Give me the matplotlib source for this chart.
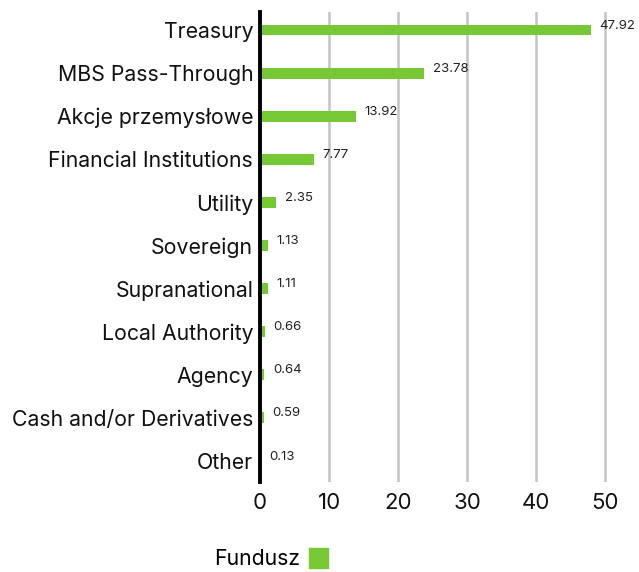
import matplotlib.pyplot as plt
from matplotlib.patches import Patch

categories = ['Treasury', 'MBS Pass-Through', 'Akcje przemysłowe', 'Financial Institutions',
              'Utility', 'Sovereign', 'Supranational', 'Local Authority', 'Agency',
              'Cash and/or Derivatives', 'Other']
values = [47.92, 23.78, 13.92, 7.77, 2.35, 1.13, 1.11, 0.66, 0.64, 0.59, 0.13]
xticks = [0, 10, 20, 30, 40, 50]
series_name = 'Fundusz'

green = '#76c835'
plt.rcParams['font.family'] = ['Inter', 'DejaVu Sans']

fig = plt.figure(figsize=(6.39, 5.72), dpi=100)
ax = fig.add_axes([0.407, 0.157, 0.573, 0.822])

pos = list(range(len(categories)))
ax.barh(pos, values, height=0.25, color=green, zorder=3)
for p, v in zip(pos, values):
    ax.annotate(f'{v:.2f}', (v, p), xytext=(6, 3), textcoords='offset points',
                va='center', ha='left', fontsize=9.5, color='#222222')

ax.set_xlim(0, 53)
ax.set_ylim(10.5, -0.42)
ax.set_yticks(pos)
ax.set_yticklabels(categories, fontsize=15.3, color='#111111')
ax.set_xticks(xticks)
ax.set_xticklabels([str(t) for t in xticks], fontsize=16, color='#111111')
ax.tick_params(axis='both', length=0, pad=5)
ax.tick_params(axis='x', pad=8)
ax.grid(axis='x', color='#c4c4c4', linewidth=1.8, zorder=0)
for s in ['top', 'right', 'bottom']:
    ax.spines[s].set_visible(False)
ax.spines['left'].set_linewidth(2.8)
ax.spines['left'].set_color('black')
ax.spines['left'].set_zorder(4)

fig.legend(handles=[Patch(color=green, label=series_name)], loc='center',
           bbox_to_anchor=(0.424, 0.024), frameon=False, markerfirst=False,
           fontsize=15.3, handlelength=0.9, handleheight=1.1, handletextpad=0.4)

fig.savefig('out.png', dpi=100)
